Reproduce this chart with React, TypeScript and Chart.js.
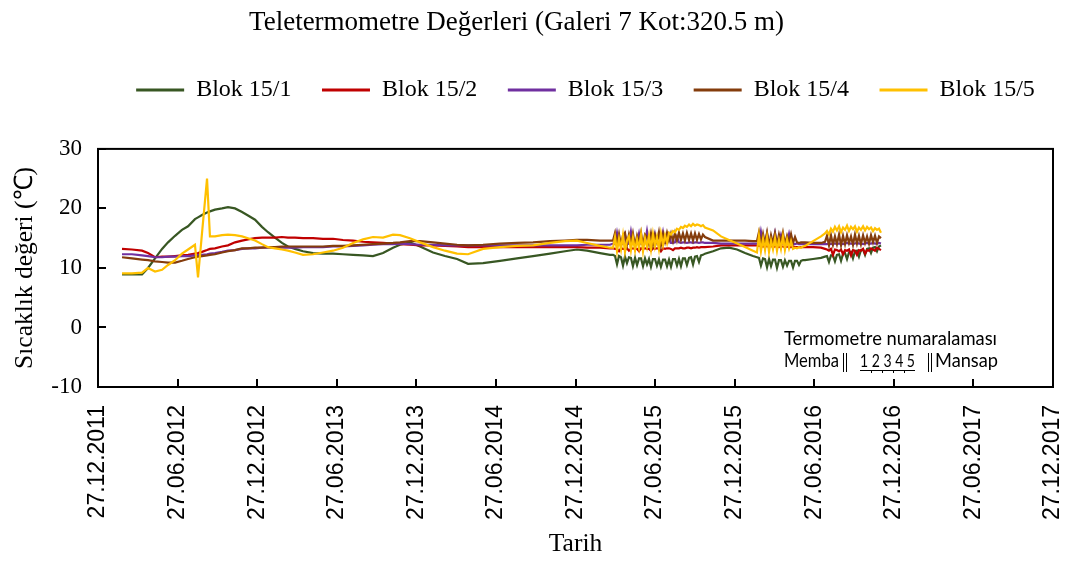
import React, { useEffect, useRef } from 'react';
import { Chart, registerables } from 'chart.js';

Chart.register(...registerables);

const chartTitle = 'Teletermometre Değerleri (Galeri 7 Kot:320.5 m)';
const xAxisTitle = 'Tarih';
const yAxisTitle = 'Sıcaklık değeri (℃)';
const seriesNames = ['Blok 15/1', 'Blok 15/2', 'Blok 15/3', 'Blok 15/4', 'Blok 15/5'];
const seriesColors = ['#385723', '#C00000', '#7030A0', '#843C0C', '#FFC000'];
const xTickLabels = [
  '27.12.2011', '27.06.2012', '27.12.2012', '27.06.2013', '27.12.2013', '27.06.2014', '27.12.2014',
  '27.06.2015', '27.12.2015', '27.06.2016', '27.12.2016', '27.06.2017', '27.12.2017',
];
const noteTitle = 'Termometre numaralaması';
const noteLeft = 'Memba';
const noteNumbers = '1 2 3 4 5';
const noteRight = 'Mansap';

// months elapsed since 27.12.2011
const monthsSinceStart = [
  // smooth period
  1.81, 2.56, 3.32, 3.77, 4.30, 4.83, 5.28, 5.81, 6.33, 6.79,
  7.31, 7.54, 7.84, 8.22, 8.44, 8.82, 9.35, 9.80, 10.33, 10.86,
  11.31, 11.84, 12.36, 12.82, 13.34, 13.87, 14.32, 14.85, 15.46, 16.21,
  16.96, 17.72, 18.47, 19.23, 19.98, 20.73, 21.49, 22.24, 22.77, 23.52,
  24.28, 25.26, 26.16, 27.07, 27.90, 29.03, 30.31, 31.59, 32.80, 34.08,
  35.21, 36.11, 36.87, 37.85, 38.60,
  // dense readings 2015
  38.83, 38.98, 39.13, 39.28, 39.43, 39.58, 39.73, 39.88, 40.03, 40.18,
  40.33, 40.49, 40.64, 40.79, 40.94, 41.09, 41.24, 41.39, 41.54, 41.69,
  41.84, 41.99, 42.14, 42.29, 42.44, 42.60, 42.75, 42.90, 43.05, 43.20,
  43.35, 43.50, 43.65, 43.80, 43.95, 44.10, 44.25, 44.40, 44.56, 44.71,
  44.86, 45.01, 45.16, 45.31, 45.46, 45.61, 45.76,
  46.37, 46.97, 47.57, 48.18, 48.78, 49.38,
  // dense readings 2016
  49.68, 49.83, 49.98, 50.14, 50.29, 50.44, 50.59, 50.74, 50.89, 51.04,
  51.19, 51.34, 51.49, 51.64, 51.79, 51.95, 52.10, 52.25, 52.40, 52.55,
  52.70, 52.85, 53.00, 53.15, 53.30,
  53.91, 54.51,
  54.81, 54.96, 55.11, 55.26, 55.41, 55.56, 55.71, 55.87, 56.02, 56.17,
  56.32, 56.47, 56.62, 56.77, 56.92, 57.07, 57.22, 57.37, 57.52, 57.68,
  57.83, 57.98, 58.13, 58.28, 58.43, 58.58, 58.73, 58.88, 59.03,
];

const blok1 = [
  8.9, 8.9, 8.9, 10.0, 11.6, 13.2, 14.3, 15.4, 16.4, 17.0,
  18.2, 18.5, 18.9, 19.3, 19.5, 19.8, 20.0, 20.2, 20.0, 19.4,
  18.8, 18.1, 16.9, 16.0, 15.1, 14.2, 13.6, 13.2, 12.8, 12.5,
  12.4, 12.4, 12.3, 12.2, 12.1, 12.0, 12.5, 13.4, 13.9, 14.3,
  13.6, 12.6, 12.0, 11.5, 10.7, 10.8, 11.2, 11.6, 12.0, 12.4,
  12.8, 13.1, 12.9, 12.5, 12.2,
  12.2, 12.0, 10.6, 12.0, 11.8, 10.4, 11.9, 10.8, 11.8, 11.7,
  10.3, 11.7, 10.5, 11.6, 11.6, 10.3, 11.6, 10.6, 11.5, 10.2,
  11.5, 11.5, 10.4, 11.4, 10.2, 11.4, 11.4, 10.3, 11.4, 10.2,
  11.5, 11.5, 10.4, 11.5, 10.3, 11.6, 11.6, 10.5, 11.7, 11.8,
  10.6, 11.9, 12.0, 11.0, 12.1, 12.2, 12.4,
  12.8, 13.3, 13.4, 13.1, 12.5, 12.0,
  11.8, 11.7, 10.4, 11.6, 11.5, 10.1, 11.5, 10.3, 11.4, 11.4,
  10.0, 11.3, 11.3, 10.2, 11.3, 10.4, 11.2, 11.2, 10.1, 11.2,
  11.2, 10.5, 11.2, 11.3, 11.3,
  11.5, 11.7,
  11.9, 12.0, 11.0, 12.1, 12.1, 11.1, 12.2, 12.3, 11.2, 12.4,
  12.5, 11.5, 12.6, 12.7, 11.6, 12.8, 12.9, 11.9, 13.0, 13.1,
  12.2, 13.2, 13.3, 12.5, 13.4, 13.5, 12.8, 13.6, 13.8,
];

const blok2 = [
  13.2, 13.1, 12.9, 12.5, 11.8, 11.9, 11.9, 12.0, 12.1, 12.2,
  12.4, 12.5, 12.7, 13.0, 13.2, 13.3, 13.6, 13.8, 14.3, 14.6,
  14.8, 15.0, 15.1, 15.1, 15.1, 15.2, 15.1, 15.1, 15.0, 15.0,
  14.9, 14.9, 14.7, 14.6, 14.4, 14.3, 14.2, 14.1, 14.0, 13.9,
  13.8, 13.8, 13.7, 13.6, 13.5, 13.5, 13.5, 13.5, 13.5, 13.5,
  13.5, 13.5, 13.4, 13.4, 13.3,
  13.3, 13.2, 13.2, 12.8, 13.3, 13.2, 13.2, 13.3, 12.9, 13.2,
  13.3, 13.2, 13.2, 12.8, 13.3, 13.2, 13.3, 13.2, 13.2, 12.9,
  13.3, 13.2, 13.3, 13.3, 12.8, 13.3, 13.2, 13.3, 13.3, 13.2,
  13.0, 13.3, 13.3, 13.3, 13.4, 13.3, 13.3, 13.4, 13.4, 13.3,
  13.4, 13.4, 13.5, 13.4, 13.5, 13.5, 13.5,
  13.6, 13.8, 13.8, 13.8, 13.8, 13.8,
  13.8, 13.7, 13.7, 13.6, 13.7, 13.6, 13.6, 13.7, 13.5, 13.6,
  13.6, 13.5, 13.6, 13.6, 13.5, 13.6, 13.5, 13.5, 13.6, 13.5,
  13.5, 13.5, 13.5, 13.5, 13.5,
  13.5, 13.4,
  13.2, 13.1, 12.9, 13.2, 12.2, 13.1, 13.0, 12.8, 13.1, 12.3,
  13.0, 12.9, 13.1, 12.1, 13.0, 12.9, 12.2, 13.0, 12.9, 13.2,
  12.4, 13.0, 12.9, 13.3, 13.1, 12.9, 13.4, 13.2, 13.0,
];

const blok3 = [
  12.3, 12.3, 12.1, 12.0, 11.8, 11.8, 11.9, 11.9, 12.0, 12.0,
  12.1, 12.2, 12.2, 12.3, 12.4, 12.5, 12.7, 12.9, 13.0, 13.2,
  13.3, 13.3, 13.4, 13.4, 13.4, 13.4, 13.4, 13.4, 13.5, 13.5,
  13.5, 13.6, 13.6, 13.7, 13.8, 13.9, 14.0, 14.0, 14.1, 14.0,
  13.9, 13.9, 13.8, 13.8, 13.8, 13.8, 13.8, 13.8, 13.8, 13.8,
  13.8, 13.8, 13.9, 13.9, 13.9,
  14.1, 14.0, 15.9, 14.1, 14.0, 14.1, 15.6, 14.0, 14.1, 16.1,
  14.1, 14.0, 14.2, 15.8, 14.1, 14.1, 14.2, 16.2, 14.1, 14.2,
  14.1, 15.7, 14.2, 14.2, 14.1, 16.0, 14.2, 14.2, 15.5, 14.2,
  14.2, 14.3, 15.2, 14.3, 14.2, 14.3, 14.3, 14.2, 14.3, 14.3,
  14.2, 14.3, 14.3, 14.2, 14.3, 14.3, 14.2,
  14.2, 14.1, 14.1, 14.1, 14.1, 14.1,
  14.1, 14.1, 16.1, 14.1, 14.2, 15.8, 14.1, 14.1, 14.2, 15.9,
  14.1, 14.1, 15.5, 14.1, 14.1, 14.2, 15.7, 14.1, 14.1, 14.0,
  14.1, 14.0, 14.0, 14.0, 14.0,
  14.0, 14.0,
  14.0, 14.0, 14.1, 14.0, 14.1, 14.1, 14.0, 14.1, 14.1, 14.0,
  14.1, 14.2, 14.1, 14.1, 14.0, 14.1, 14.2, 14.1, 14.1, 14.0,
  14.1, 14.2, 14.1, 14.1, 14.2, 14.1, 14.1, 14.2, 14.1,
];

const blok4 = [
  11.8, 11.6, 11.4, 11.3, 11.1, 11.0, 10.9, 10.9, 11.2, 11.5,
  11.8, 11.9, 12.0, 12.1, 12.2, 12.3, 12.6, 12.8, 13.0, 13.3,
  13.3, 13.4, 13.4, 13.5, 13.5, 13.6, 13.6, 13.6, 13.6, 13.6,
  13.6, 13.7, 13.7, 13.8, 13.9, 14.0, 14.1, 14.2, 14.3, 14.5,
  14.5, 14.3, 14.1, 13.9, 13.8, 13.9, 14.1, 14.2, 14.3, 14.5,
  14.6, 14.7, 14.7, 14.6, 14.6,
  14.6, 15.9, 14.0, 15.7, 13.8, 15.5, 15.9, 13.9, 15.6, 14.1,
  15.8, 13.7, 15.4, 14.2, 15.9, 13.8, 15.6, 15.2, 14.0, 15.8,
  13.9, 15.5, 14.3, 16.0, 13.8, 15.7, 14.4, 15.9, 14.6, 15.8,
  14.5, 15.9, 14.6, 15.9, 14.7, 15.8, 14.6, 15.9, 14.7, 15.8,
  14.6, 15.8, 14.7, 15.7, 14.8, 15.6, 15.2,
  14.6, 14.6, 14.6, 14.6, 14.6, 14.5,
  14.5, 16.0, 13.8, 15.7, 14.0, 15.9, 13.7, 15.5, 14.1, 15.8,
  13.9, 15.6, 14.2, 15.9, 14.0, 15.4, 14.3, 15.7, 14.2, 15.2,
  14.3, 14.2, 14.3, 14.3, 14.3,
  14.2, 14.2,
  14.4, 15.4, 13.8, 15.5, 13.9, 15.3, 14.0, 15.6, 13.8, 15.4,
  14.0, 15.5, 14.2, 15.3, 13.9, 15.6, 14.1, 15.4, 14.0, 15.5,
  14.2, 15.3, 14.1, 15.5, 14.3, 15.4, 14.2, 15.3, 15.0,
];

const blok5 = [
  9.1, 9.1, 9.2, 10.0, 9.4, 9.7, 10.5, 11.3, 12.4, 13.1,
  13.9, 8.4, 15.8, 25.0, 15.3, 15.3, 15.5, 15.6, 15.5, 15.3,
  15.0, 14.6, 14.0, 13.5, 13.3, 13.1, 12.9, 12.6, 12.2, 12.3,
  12.6, 12.9, 13.4, 14.2, 14.8, 15.2, 15.1, 15.6, 15.5, 15.0,
  14.3, 13.5, 12.9, 12.4, 12.3, 13.2, 13.5, 13.7, 13.8, 14.2,
  14.5, 14.6, 14.2, 13.7, 13.4,
  13.4, 15.2, 12.8, 14.9, 13.1, 15.5, 12.7, 14.6, 15.3, 13.0,
  15.1, 12.9, 14.8, 13.3, 15.6, 12.8, 15.0, 13.5, 15.4, 13.1,
  15.7, 13.6, 15.2, 13.2, 15.8, 13.8, 15.5, 14.2, 15.9, 15.6,
  16.2, 16.0, 16.6, 16.4, 16.9, 16.7, 17.1, 16.9, 17.3, 17.0,
  17.4, 17.1, 17.3, 17.2, 17.0, 17.2, 16.8,
  16.3, 15.3, 14.7, 14.1, 13.5, 12.9,
  12.6, 15.4, 12.8, 14.9, 13.0, 15.2, 12.7, 14.6, 13.1, 15.0,
  12.9, 14.7, 13.2, 15.3, 13.0, 14.8, 13.3, 14.5, 13.2, 13.4,
  13.3, 13.5, 13.4, 13.6, 13.7,
  14.5, 15.3,
  15.8, 16.2, 15.6, 16.6, 16.1, 16.9, 16.3, 17.0, 16.0, 16.8,
  16.4, 17.1, 16.2, 16.9, 16.5, 17.0, 16.1, 16.8, 16.4, 17.0,
  16.3, 16.9, 16.5, 16.8, 16.2, 16.7, 16.4, 16.6, 15.9,
];

const seriesValues = [blok1, blok2, blok3, blok4, blok5];

const legendLayoutPlugin = {
  id: 'legendLayout',
  beforeInit(chart: any) {
    const legend = chart.legend;
    if (legend) {
      const orig = legend.fit;
      legend.fit = function () {
        orig.call(this);
        this.height = 101.5;
      };
    }
  },
  afterLayout(chart: any) {
    const legend = chart.legend;
    if (legend) {
      legend.left += 59;
      legend.right += 59;
    }
    const title = chart.titleBlock;
    if (title) {
      title.left -= 10;
      title.right -= 10;
    }
  },
};

const framePlugin = {
  id: 'frame',
  afterDatasetsDraw(chart: any) {
    const { ctx, chartArea: a, scales } = chart;
    const xs = scales.x;
    const ys = scales.y;
    ctx.save();
    ctx.strokeStyle = '#000';
    ctx.lineWidth = 2;
    ctx.strokeRect(a.left, a.top, a.right - a.left, a.bottom - a.top);
    ctx.beginPath();
    xs.ticks.forEach((t: any) => {
      const px = Math.round(xs.getPixelForValue(t.value));
      ctx.moveTo(px, a.bottom);
      ctx.lineTo(px, a.bottom - 8);
    });
    ys.ticks.forEach((t: any) => {
      const py = Math.round(ys.getPixelForValue(t.value));
      ctx.moveTo(a.left, py);
      ctx.lineTo(a.left + 8, py);
    });
    ctx.stroke();
    ctx.restore();
  },
};

const notePlugin = {
  id: 'note',
  afterDraw(chart: any) {
    const { ctx } = chart;
    ctx.save();
    ctx.fillStyle = '#000';
    ctx.strokeStyle = '#000';
    ctx.textBaseline = 'alphabetic';
    ctx.textAlign = 'left';
    ctx.font = '18.5px Lato';
    ctx.fillText(noteTitle, 784, 345, 213);
    ctx.fillText(noteLeft, 784, 367, 55);
    ctx.fillText(noteRight, 935, 367, 63);
    ctx.font = '17px Lato';
    ctx.fillText(noteNumbers, 860, 367, 55);
    ctx.lineWidth = 1;
    ctx.beginPath();
    [843, 846, 928, 931].forEach((x) => {
      ctx.moveTo(x + 0.5, 353);
      ctx.lineTo(x + 0.5, 372);
    });
    ctx.moveTo(860, 370.5);
    ctx.lineTo(915, 370.5);
    [871, 882, 893, 904].forEach((x) => {
      ctx.moveTo(x + 0.5, 370);
      ctx.lineTo(x + 0.5, 373);
    });
    ctx.stroke();
    ctx.restore();
  },
};

export default function App() {
  const canvasRef = useRef<HTMLCanvasElement | null>(null);

  useEffect(() => {
    if (!canvasRef.current) return;
    const datasets = seriesNames.map((name, i) => ({
      label: name,
      data: monthsSinceStart.map((m, j) => ({ x: m, y: seriesValues[i][j] })),
      borderColor: seriesColors[i],
      backgroundColor: seriesColors[i],
      borderWidth: 2.2,
      pointRadius: 0,
      tension: 0,
      order: 5 - i,
    }));

    const chart = new Chart(canvasRef.current, {
      type: 'line',
      data: { datasets },
      plugins: [legendLayoutPlugin, framePlugin, notePlugin],
      options: {
        animation: false,
        responsive: true,
        maintainAspectRatio: false,
        events: [],
        layout: { padding: { left: 0, right: 20, top: 0, bottom: 0 } },
        plugins: {
          title: {
            display: true,
            text: chartTitle,
            color: '#000',
            font: { family: 'Liberation Serif', size: 27, weight: 'normal', lineHeight: 1.2 },
            padding: { top: 7, bottom: 8 },
          },
          legend: {
            display: true,
            position: 'top',
            align: 'center',
            labels: {
              usePointStyle: true,
              pointStyle: 'line',
              pointStyleWidth: 48,
              boxWidth: 48,
              padding: 30.5,
              color: '#000',
              font: { family: 'Liberation Serif', size: 24 },
              sort: (a: any, b: any) => a.datasetIndex - b.datasetIndex,
              generateLabels: (c: any) =>
                Chart.defaults.plugins.legend.labels
                  .generateLabels(c)
                  .map((l: any) => ({ ...l, lineWidth: 3, pointStyle: 'line' })),
            },
          },
          tooltip: { enabled: false },
        },
        scales: {
          x: {
            type: 'linear',
            min: 0,
            max: 72,
            afterBuildTicks: (s: any) => {
              s.ticks = xTickLabels.map((_, i) => ({ value: i * 6 }));
            },
            afterFit: (s: any) => {
              s.height = 175;
              s.paddingLeft = 0;
              s.paddingRight = 0;
            },
            grid: { display: false, drawTicks: false },
            border: { display: false },
            ticks: {
              autoSkip: false,
              minRotation: 90,
              maxRotation: 90,
              padding: 18,
              color: '#000',
              font: { family: 'Liberation Sans', size: 23 },
              callback: (v: any) => xTickLabels[Math.round(Number(v) / 6)],
            },
            title: {
              display: true,
              text: xAxisTitle,
              color: '#000',
              font: { family: 'Liberation Serif', size: 25.5, lineHeight: 1.2 },
              padding: { top: 0, bottom: 2 },
            },
          },
          y: {
            type: 'linear',
            min: -10,
            max: 30,
            afterFit: (s: any) => {
              s.width = 98;
            },
            grid: { display: false, drawTicks: false },
            border: { display: false },
            ticks: {
              stepSize: 10,
              padding: 16,
              color: '#000',
              font: { family: 'Liberation Serif', size: 23 },
            },
            title: {
              display: true,
              text: yAxisTitle,
              color: '#000',
              font: { family: 'Liberation Serif', size: 25.5, lineHeight: 1.2 },
              padding: { top: 10, bottom: 0 },
            },
          },
        },
      } as any,
    });
    return () => chart.destroy();
  }, []);

  return (
    <div style={{ position: 'fixed', left: 0, top: 0, width: 1073, height: 562, background: '#fff' }}>
      <canvas ref={canvasRef} />
    </div>
  );
}
